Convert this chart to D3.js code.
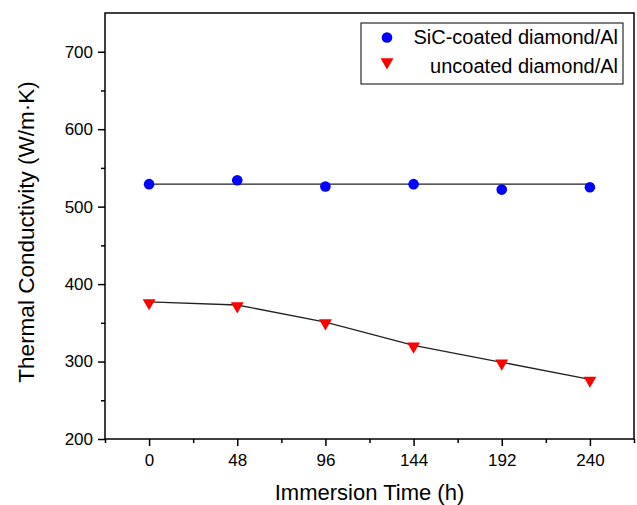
<!DOCTYPE html>
<html>
<head>
<meta charset="utf-8">
<script src="https://cdn.jsdelivr.net/npm/d3@7"></script>
<style>
  html, body { margin: 0; padding: 0; background: #fff; }
  svg { display: block; font-family: "Liberation Sans", Arial, sans-serif; }
</style>
</head>
<body>
<svg id="chart" width="637" height="505"></svg>
<script>
const immersionTimes = [0, 48, 96, 144, 192, 240];
const sicCoated = [529, 534, 526, 529, 522, 525];
const uncoated = [377, 373, 351, 321, 299, 277];
const sicFitTimes = [0, 240];
const sicFitValues = [529, 529];
const xTickValues = [0, 48, 96, 144, 192, 240];
const yTickValues = [200, 300, 400, 500, 600, 700];
const seriesNames = ["SiC-coated diamond/Al", "uncoated diamond/Al"];

(function () {
const svg = d3.select("#chart");
const pL = 105, pR = 634, pT = 13, pB = 439;

const x = d3.scaleLinear().domain([-24, 264]).range([pL, pR]);
const y = d3.scaleLinear().domain([200, 750]).range([pB, pT]);

// frame
svg.append("rect")
  .attr("x", pL).attr("y", pT)
  .attr("width", pR - pL).attr("height", pB - pT)
  .attr("fill", "none").attr("stroke", "#000").attr("stroke-width", 1.5);

// x axis major
const xAxis = d3.axisBottom(x).tickValues(xTickValues).tickSize(7).tickPadding(8).tickFormat(d3.format("d"));
const gx = svg.append("g").attr("transform", `translate(0,${pB})`).call(xAxis);
gx.select(".domain").remove();
gx.selectAll(".tick line").attr("stroke", "#000").attr("stroke-width", 1.5);
gx.selectAll(".tick text").attr("font-size", 17).attr("fill", "#000")
  .attr("font-family", '"Liberation Sans", Arial, sans-serif');
// x minor
const xMinor = d3.axisBottom(x).tickValues([-24, 24, 72, 120, 168, 216, 264]).tickSize(4).tickFormat("");
const gxm = svg.append("g").attr("transform", `translate(0,${pB})`).call(xMinor);
gxm.select(".domain").remove();
gxm.selectAll(".tick line").attr("stroke", "#000").attr("stroke-width", 1.5);

// y axis major
const yAxis = d3.axisLeft(y).tickValues(yTickValues).tickSize(7).tickPadding(5).tickFormat(d3.format("d"));
const gy = svg.append("g").attr("transform", `translate(${pL},0)`).call(yAxis);
gy.select(".domain").remove();
gy.selectAll(".tick line").attr("stroke", "#000").attr("stroke-width", 1.5);
gy.selectAll(".tick text").attr("font-size", 17).attr("fill", "#000")
  .attr("font-family", '"Liberation Sans", Arial, sans-serif');
const yMinor = d3.axisLeft(y).tickValues([250, 350, 450, 550, 650]).tickSize(4).tickFormat("");
const gym = svg.append("g").attr("transform", `translate(${pL},0)`).call(yMinor);
gym.select(".domain").remove();
gym.selectAll(".tick line").attr("stroke", "#000").attr("stroke-width", 1.5);

// axis titles
svg.append("text")
  .attr("x", (pL + pR) / 2).attr("y", 500)
  .attr("text-anchor", "middle").attr("font-size", 22).attr("fill", "#000")
  .text("Immersion Time (h)");
svg.append("text")
  .attr("transform", `translate(34,${(pT + pB) / 2 + 6}) rotate(-90)`)
  .attr("text-anchor", "middle").attr("font-size", 22.5).attr("fill", "#000")
  .text("Thermal Conductivity (W/m·K)");

// lines
const line = d3.line().x(d => x(d[0])).y(d => y(d[1]));
svg.append("path")
  .datum(d3.zip(sicFitTimes, sicFitValues))
  .attr("d", line).attr("fill", "none").attr("stroke", "#222").attr("stroke-width", 1.3);
svg.append("path")
  .datum(d3.zip(immersionTimes, uncoated))
  .attr("d", line).attr("fill", "none").attr("stroke", "#222").attr("stroke-width", 1.3);

// markers
const tri = d3.symbol().type(d3.symbolTriangle).size(72);
svg.append("g").selectAll("circle")
  .data(d3.zip(immersionTimes, sicCoated)).join("circle")
  .attr("cx", d => x(d[0])).attr("cy", d => y(d[1])).attr("r", 5.3).attr("fill", "#0000ff");
svg.append("g").selectAll("path")
  .data(d3.zip(immersionTimes, uncoated)).join("path")
  .attr("d", tri)
  .attr("transform", d => `translate(${x(d[0])},${y(d[1]) + 1}) rotate(180)`)
  .attr("fill", "#ff0000");

// legend
const lg = svg.append("g");
lg.append("rect").attr("x", 361).attr("y", 23).attr("width", 262).attr("height", 61)
  .attr("fill", "#fff").attr("stroke", "#000").attr("stroke-width", 1);
lg.append("circle").attr("cx", 387).attr("cy", 37.5).attr("r", 5.3).attr("fill", "#0000ff");
lg.append("path").attr("d", tri).attr("transform", "translate(387,62) rotate(180)").attr("fill", "#ff0000");
lg.append("text").attr("x", 618).attr("y", 44).attr("text-anchor", "end")
  .attr("font-size", 20).attr("fill", "#000").text(seriesNames[0]);
lg.append("text").attr("x", 618).attr("y", 72.5).attr("text-anchor", "end")
  .attr("font-size", 20).attr("fill", "#000").text(seriesNames[1]);
})();
</script>
</body>
</html>
